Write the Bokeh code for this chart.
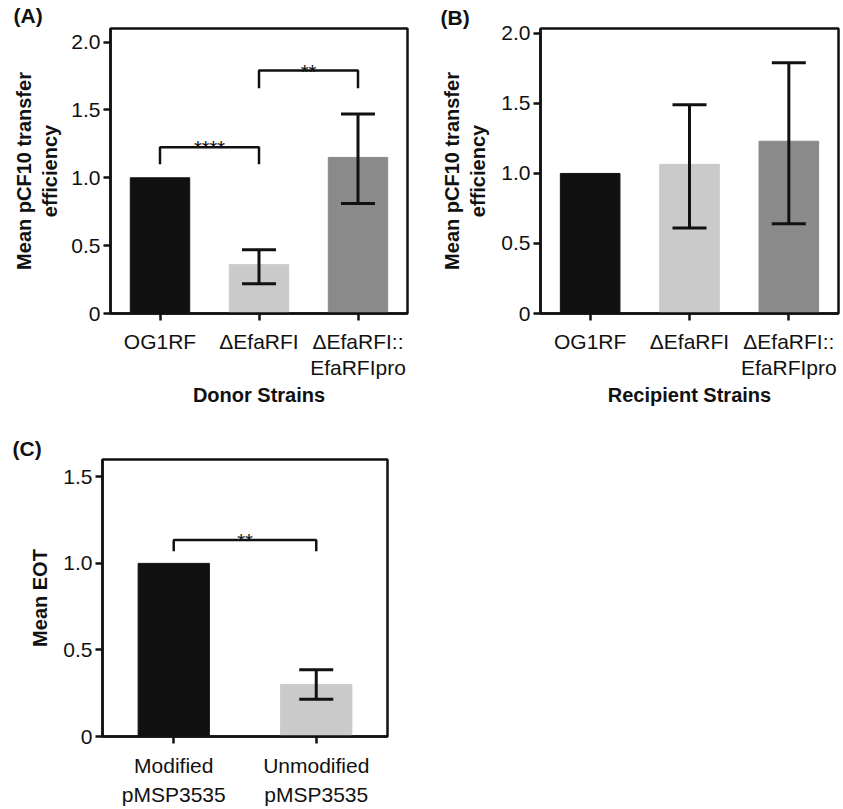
from bokeh.plotting import figure
from bokeh.models import (Range1d, FixedTicker, Whisker, TeeHead,
                          ColumnDataSource, LinearAxis, Title)
from bokeh.layouts import column, row
from bokeh.embed import file_html
from bokeh.resources import INLINE
from bokeh.core.properties import value

# ---------------- data ----------------
strains = ["OG1RF", "ΔEfaRFI", "ΔEfaRFI::EfaRFIpro"]
strain_line1 = ["OG1RF", "ΔEfaRFI", "ΔEfaRFI::"]
strain_line2 = ["", "", "EfaRFIpro"]

donor_mean = [1.0, 0.36, 1.15]
donor_lower = [1.0, 0.22, 0.81]
donor_upper = [1.0, 0.47, 1.47]

recip_mean = [1.0, 1.065, 1.23]
recip_lower = [1.0, 0.61, 0.64]
recip_upper = [1.0, 1.49, 1.79]

plasmids = ["Modified pMSP3535", "Unmodified pMSP3535"]
plasmid_line1 = ["Modified", "Unmodified"]
plasmid_line2 = ["pMSP3535", "pMSP3535"]
eot_mean = [1.0, 0.30]
eot_lower = [1.0, 0.215]
eot_upper = [1.0, 0.385]

colors3 = ["#111111", "#cacaca", "#8a8a8a"]
colors2 = ["#111111", "#cacaca"]

# (from, to, bracket level, bracket foot, label)
donor_brackets = [("OG1RF", "ΔEfaRFI", 1.225, 1.10, "****"),
                  ("ΔEfaRFI", "ΔEfaRFI::EfaRFIpro", 1.79, 1.66, "**")]
eot_brackets = [("Modified pMSP3535", "Unmodified pMSP3535", 1.135, 1.07, "**")]

yticks_ab = [0, 0.5, 1.0, 1.5, 2.0]
yticklabels_ab = ["0", "0.5", "1.0", "1.5", "2.0"]
yticks_c = [0, 0.5, 1.0, 1.5]
yticklabels_c = ["0", "0.5", "1.0", "1.5"]

FONT = "Liberation Sans"
INK = "#111111"


def style_axis(ax):
    ax.axis_line_width = 2.5
    ax.axis_line_color = INK
    ax.major_tick_line_width = 2.5
    ax.major_tick_line_color = INK
    ax.major_tick_out = 7
    ax.major_tick_in = 0
    ax.minor_tick_line_color = None
    ax.major_label_text_font = FONT
    ax.major_label_text_font_size = "21px"
    ax.major_label_text_color = INK
    ax.axis_label_text_font = FONT
    ax.axis_label_text_font_size = "20px"
    ax.axis_label_text_font_style = "bold"
    ax.axis_label_text_color = INK


def make_panel(cats, line1, line2, means, lowers, uppers, colors, ymax, yticks, yticklabels,
               xtitle, ytitle, panel, brackets, bar_width, width, height,
               mb_left, mb_right, mb_top, mb_bottom, title_offset, title_valign,
               ylab_standoff, s1, s2, s3):
    n = len(cats)
    pos = [i + 0.5 for i in range(n)]
    where = dict(zip(cats, pos))
    p = figure(x_range=Range1d(0, n), y_range=Range1d(0, ymax),
               width=width, height=height, output_backend="svg", toolbar_location=None,
               min_border_left=mb_left, min_border_right=mb_right,
               min_border_top=mb_top, min_border_bottom=mb_bottom,
               x_axis_type=None)
    p.grid.visible = False
    p.outline_line_color = INK
    p.outline_line_width = 2.5
    p.background_fill_color = "white"
    p.border_fill_color = "white"

    src = ColumnDataSource(dict(x=pos, top=means, color=colors))
    p.vbar(x="x", top="top", width=bar_width, color="color", source=src)

    ex = [x for x, lo, up in zip(pos, lowers, uppers) if up > lo]
    el = [lo for lo, up in zip(lowers, uppers) if up > lo]
    eu = [up for lo, up in zip(lowers, uppers) if up > lo]
    esrc = ColumnDataSource(dict(x=ex, lower=el, upper=eu))
    w = Whisker(source=esrc, base="x", lower="lower", upper="upper",
                line_width=3, line_color=INK, level="overlay",
                upper_head=TeeHead(size=34, line_width=3, line_color=INK),
                lower_head=TeeHead(size=34, line_width=3, line_color=INK))
    p.add_layout(w)

    for a, b, lev, foot, txt in brackets:
        xa_, xb_ = where[a], where[b]
        p.multi_line(xs=[[xa_, xa_, xb_, xb_]], ys=[[foot, lev, lev, foot]],
                     line_color=INK, line_width=2.5)
        p.text(x=[(xa_ + xb_) / 2], y=[lev], text=[txt], text_align="center",
               text_baseline="alphabetic", text_font=value(FONT),
               text_font_size="20px", text_color=INK, y_offset=1)

    ya = p.yaxis[0]
    style_axis(ya)
    ya.ticker = FixedTicker(ticks=yticks)
    ya.major_label_overrides = {t: l for t, l in zip(yticks, yticklabels)}
    ya.major_label_standoff = 3
    ya.axis_label = ytitle
    ya.axis_label_standoff = ylab_standoff

    xa = LinearAxis(ticker=FixedTicker(ticks=pos))
    style_axis(xa)
    xa.major_label_overrides = {x: l for x, l in zip(pos, line1)}
    xa.major_label_standoff = s1
    p.add_layout(xa, "below")

    xa2 = LinearAxis(ticker=FixedTicker(ticks=pos))
    style_axis(xa2)
    xa2.axis_line_color = None
    xa2.major_tick_line_color = None
    xa2.major_tick_out = 0
    xa2.major_label_overrides = {x: l for x, l in zip(pos, line2)}
    xa2.major_label_standoff = s2
    if xtitle:
        xa2.axis_label = xtitle
        xa2.axis_label_standoff = s3
    p.add_layout(xa2, "below")

    p.add_layout(Title(text=panel, align="left", offset=title_offset, standoff=0,
                       vertical_align=title_valign,
                       text_font=FONT, text_font_size="21px", text_font_style="bold",
                       text_color=INK), "above")
    return p


pA = make_panel(strains, strain_line1, strain_line2, donor_mean, donor_lower, donor_upper,
                colors3, 2.1, yticks_ab, yticklabels_ab, "Donor Strains",
                "Mean pCF10 transfer\nefficiency", "(A)", donor_brackets, 0.6,
                425, 430, 110, 18, 28, 117, -97, "top", 7, 9, 0, 2)
pB = make_panel(strains, strain_line1, strain_line2, recip_mean, recip_lower, recip_upper,
                colors3, 2.035, yticks_ab, yticklabels_ab, "Recipient Strains",
                "Mean pCF10 transfer\nefficiency", "(B)", [], 0.6,
                418, 430, 115, 5, 20, 117, -100, "bottom", 9, 9, 0, 2)
pC = make_panel(plasmids, plasmid_line1, plasmid_line2, eot_mean, eot_lower, eot_upper,
                colors2, 1.6, yticks_c, yticklabels_c, "",
                "Mean EOT", "(C)", eot_brackets, 0.5,
                430, 378, 102, 43, 29, 67, -90, "bottom", 9, 10, 3, 3)

layout = column(row(pA, pB), row(pC))
open("out.html", "w").write(file_html(layout, INLINE))
